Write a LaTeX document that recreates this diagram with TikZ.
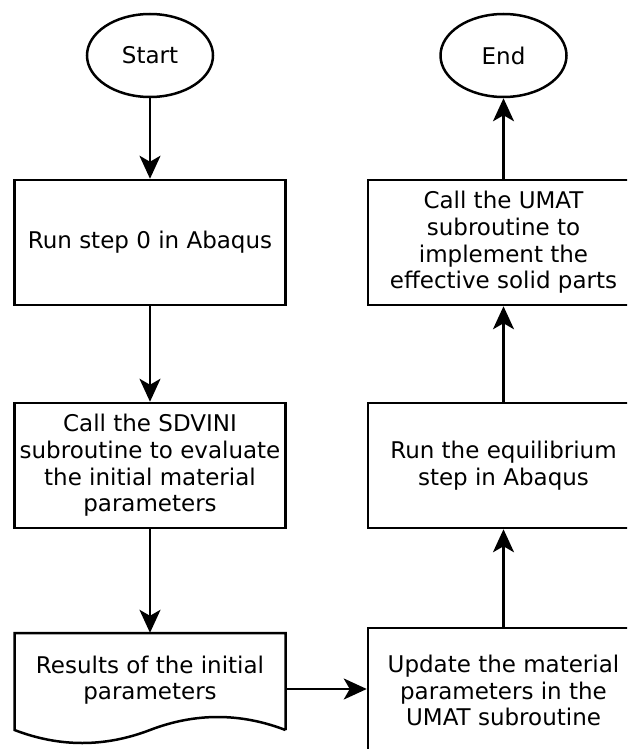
\documentclass[tikz,border=0pt]{standalone}
\usepackage{fontspec}
\setmainfont{DejaVu Sans}
\usetikzlibrary{shapes.geometric,arrows.meta}
\begin{document}
\begin{tikzpicture}[x=1pt,y=-1pt,
  every node/.style={font=\fontsize{23}{26.7}\selectfont, align=center, inner sep=0pt},
  term/.style={ellipse, draw, line width=2.5pt, minimum width=126pt, minimum height=83pt},
  proc/.style={rectangle, draw, line width=2.5pt, minimum width=271pt, minimum height=125pt},
  docbox/.style={rectangle, minimum width=271pt, minimum height=112pt},
  arr/.style={line width=2.5pt, -{Stealth[length=23pt,width=21pt,inset=6pt]}}]
\useasboundingbox (0,0) rectangle (627,749);
\clip (0,0) rectangle (627,749);
\node[term] (start) at (150,55.5) {Start};
\node[proc] (b1) at (150,242.5) {Run step 0 in Abaqus};
\node[proc] (b2) at (150,465.5) {Call the SDVINI\\subroutine to evaluate\\the initial material\\parameters};
\node[docbox] (doc) at (150,689) {};
\node at ([yshift=9pt]doc.center) {Results of the initial\\parameters};
\draw[line width=2.5pt, line join=miter] (285.5,730) -- (285.5,633) -- (14.5,633) -- (14.5,730)
  .. controls (59.67,747.33) and (104.83,747.33) .. (150,730)
  .. controls (195.17,712.67) and (240.33,712.67) .. (285.5,730);
\node[proc] (upd) at (503.5,690.5) {Update the material\\parameters in the\\UMAT subroutine};
\node[proc] (equ) at (503.5,465.5) {Run the equilibrium\\step in Abaqus};
\node[proc] (umat) at (503.5,242.5) {Call the UMAT\\subroutine to\\implement the\\effective solid parts};
\node[term] (end) at (503.5,55.5) {End};
\draw[arr] (start) -- (b1);
\draw[arr] (b1) -- (b2);
\draw[arr] (b2) -- (doc);
\draw[arr] (doc.east) -- (doc.east -| upd.west);
\draw[arr] (upd) -- (equ);
\draw[arr] (equ) -- (umat);
\draw[arr] (umat) -- (end);
\end{tikzpicture}
\end{document}
